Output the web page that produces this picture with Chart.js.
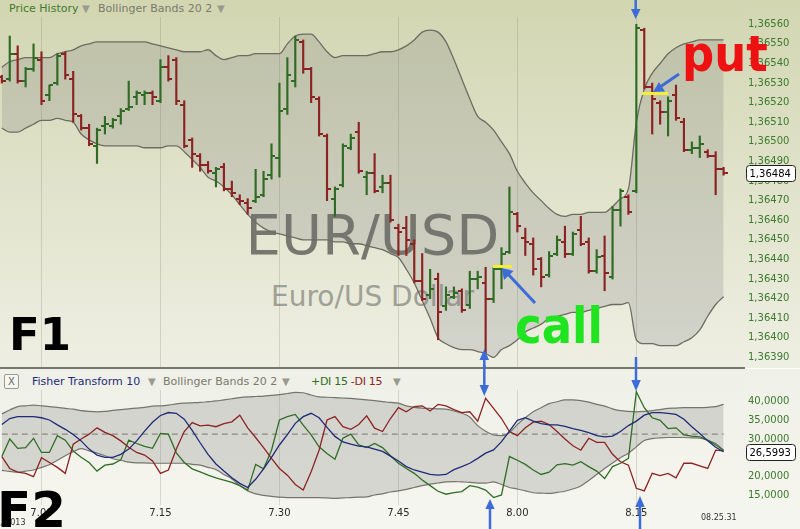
<!DOCTYPE html>
<html lang="en">
<head>
<meta charset="UTF-8">
<title>EUR/USD Price History</title>
<script src="https://cdn.jsdelivr.net/npm/chart.js@4"></script>
<style>
  body { margin: 0; background: #fff; }
  #wrap { position: relative; width: 800px; height: 529px; overflow: hidden; font-family: "DejaVu Sans", Verdana, sans-serif; }
  .abs { position: absolute; white-space: nowrap; }
  #topBg { left: 0; top: 0; width: 800px; height: 368px; background: linear-gradient(#d2d6b1, #dfe1c8 45%, #eeefe3); }
  #botBg { left: 0; top: 369px; width: 800px; height: 160px; background: linear-gradient(#eff0e7, #f6f6f0); }
  #sep { left: 0; top: 367px; width: 745px; height: 1.5px; background: #77776f; }
  canvas { position: absolute; left: 0; }
  #priceChart { top: 0; }
  #fisherChart { top: 369px; }
  .strip { left: 0; width: 745px; }
  .hdr { font-size: 11px; line-height: 17px; }
  .tri { color: #9a9a8e; font-size: 10px; }
  .mark { line-height: 1; }
</style>
</head>
<body>
<div id="wrap">
  <div id="topBg" class="abs"></div>
  <div id="botBg" class="abs"></div>

  <div class="abs mark" style="left:0;width:745px;text-align:center;top:206.6px;font-size:56px;color:#77776f;">EUR/USD</div>
  <div class="abs mark" style="left:0;width:745px;text-align:center;top:283.3px;font-size:28px;color:#a0a096;">Euro/US Dollar</div>

  <canvas id="priceChart" width="800" height="368"></canvas>
  <canvas id="fisherChart" width="800" height="160"></canvas>
  <div id="sep" class="abs"></div>

  <div class="abs strip" style="top:0;height:17px;background:#d2d6b1;"></div>
  <div class="abs hdr" style="left:9px;top:0;color:#3d7a2c;">Price History</div>
  <div class="abs hdr tri" style="left:82px;top:0;">▼</div>
  <div class="abs hdr" style="left:98px;top:0;color:#7a7a6c;">Bollinger Bands 20 2</div>
  <div class="abs hdr tri" style="left:217px;top:0;">▼</div>

  <div class="abs strip" style="top:369px;height:21px;background:#eff0e7;"></div>
  <div class="abs" style="left:4px;top:374px;width:13px;height:13px;border:1px solid #9a9a90;border-radius:2px;background:#f6f6f0;font-size:10px;line-height:13px;text-align:center;color:#666;">X</div>
  <div class="abs hdr" style="left:32px;top:373px;color:#1f2a78;">Fisher Transform 10</div>
  <div class="abs hdr tri" style="left:148px;top:373px;">▼</div>
  <div class="abs hdr" style="left:163px;top:373px;color:#7a7a6c;">Bollinger Bands 20 2</div>
  <div class="abs hdr tri" style="left:282px;top:373px;">▼</div>
  <div class="abs hdr" style="left:311px;top:373px;color:#2f6e24;letter-spacing:-0.3px;">+DI 15 <span style="color:#8c2323;">-DI 15</span></div>
  <div class="abs hdr tri" style="left:393px;top:373px;">▼</div>

  <div class="abs" style="left:701px;top:513px;font-size:8px;color:#333;">08.25.31</div>
  <div class="abs" style="left:-5px;top:518px;font-size:8px;color:#333;">7, 2013</div>

  <div class="abs mark" style="left:9px;top:312px;font-size:45px;font-weight:bold;color:#000;">F1</div>
  <div class="abs mark" style="left:-3px;top:484.7px;font-size:50px;font-weight:bold;color:#000;">F2</div>
  <div class="abs mark" style="left:515px;top:301px;font-size:50px;font-weight:bold;font-family:'DejaVu Sans Condensed','DejaVu Sans',sans-serif;color:#1fe41f;">call</div>
  <div class="abs mark" style="left:682px;top:29.4px;font-size:50px;font-weight:bold;font-family:'DejaVu Sans Condensed','DejaVu Sans',sans-serif;color:#ee1111;">put</div>

  <svg class="abs" style="left:0;top:0;" width="800" height="529">
    <g stroke="#f2ee3a" stroke-width="3">
      <line x1="493" y1="266.5" x2="512" y2="266.5"/>
      <line x1="642" y1="93.5" x2="668" y2="93.5"/>
    </g>
    <g stroke="#3d6cd8" stroke-width="2.5" fill="#3d6cd8">
      <line x1="635.7" y1="0" x2="635.7" y2="10"/>
      <polygon stroke="none" points="631,9 640.5,9 635.7,19"/>
      <line x1="484.3" y1="359" x2="484.3" y2="369"/>
      <polygon stroke="none" points="479.5,360 489,360 484.3,349"/>
      <line x1="636" y1="357" x2="636" y2="381"/>
      <polygon stroke="none" points="631.3,380 640.8,380 636,391"/>
      <line x1="484.3" y1="365" x2="484.3" y2="386"/>
      <polygon stroke="none" points="479.6,385 489,385 484.3,396"/>
      <line x1="490" y1="508" x2="490" y2="529"/>
      <polygon stroke="none" points="485.3,509 494.7,509 490,499"/>
      <line x1="640" y1="506" x2="640" y2="529"/>
      <polygon stroke="none" points="635.3,507 644.7,507 640,496"/>
      <line x1="535" y1="303" x2="507" y2="273" stroke-width="3"/>
      <polygon stroke="none" points="501.7,268 504,280 513.5,271"/>
      <line x1="679" y1="74" x2="660" y2="87" stroke-width="3"/>
      <polygon stroke="none" points="653,92 665,91.5 659,82"/>
    </g>
  </svg>
</div>

<script>
// one bar per minute, first bar at 6.55 (minute -5 counted from 7.00)
const firstMinute = -5;

const open = [
  1.36533, 1.36532, 1.36545, 1.36531, 1.36537,
  1.36542, 1.36524, 1.36530, 1.36545, 1.36532, 1.36513, 1.36507, 1.36498, 1.36508, 1.36508,
  1.36513, 1.36517, 1.36523, 1.36524, 1.36525, 1.36521, 1.36538, 1.36542, 1.36519, 1.36501,
  1.36493, 1.36488, 1.36484, 1.36487, 1.36476, 1.36471, 1.36469, 1.36470, 1.36473, 1.36483,
  1.36492, 1.36517, 1.36531, 1.36551, 1.36537, 1.36522, 1.36503, 1.36471, 1.36478, 1.36497,
  1.36505, 1.36482, 1.36484, 1.36477, 1.36479, 1.36456, 1.36456, 1.36448, 1.36429, 1.36422,
  1.36430, 1.36416, 1.36421, 1.36424, 1.36417, 1.36430, 1.36428, 1.36420, 1.36435, 1.36444,
  1.36463, 1.36451, 1.36448, 1.36440, 1.36432, 1.36443, 1.36449, 1.36443, 1.36455, 1.36449,
  1.36434, 1.36442, 1.36431, 1.36465, 1.36472, 1.36475, 1.36557, 1.36528, 1.36520, 1.36515,
  1.36524, 1.36510, 1.36496, 1.36497, 1.36495, 1.36493, 1.36486
];
const high = [
  1.36534, 1.36554, 1.36549, 1.36538, 1.36550,
  1.36546, 1.36529, 1.36545, 1.36546, 1.36536, 1.36514, 1.36509, 1.36507, 1.36513, 1.36512,
  1.36517, 1.36531, 1.36526, 1.36526, 1.36526, 1.36542, 1.36544, 1.36543, 1.36521, 1.36502,
  1.36494, 1.36490, 1.36487, 1.36489, 1.36480, 1.36473, 1.36471, 1.36486, 1.36485, 1.36499,
  1.36530, 1.36543, 1.36554, 1.36552, 1.36538, 1.36523, 1.36504, 1.36477, 1.36499, 1.36504,
  1.36510, 1.36485, 1.36494, 1.36483, 1.36483, 1.36458, 1.36462, 1.36450, 1.36443, 1.36435,
  1.36433, 1.36426, 1.36426, 1.36425, 1.36434, 1.36434, 1.36436, 1.36436, 1.36446, 1.36477,
  1.36464, 1.36456, 1.36451, 1.36441, 1.36444, 1.36452, 1.36457, 1.36454, 1.36462, 1.36451,
  1.36445, 1.36452, 1.36467, 1.36476, 1.36473, 1.36560, 1.36558, 1.36530, 1.36521, 1.36523,
  1.36529, 1.36512, 1.36500, 1.36503, 1.36496, 1.36495, 1.36487
];
const low = [
  1.36530, 1.36531, 1.36530, 1.36528, 1.36536,
  1.36519, 1.36521, 1.36529, 1.36532, 1.36510, 1.36506, 1.36498, 1.36489, 1.36504, 1.36507,
  1.36509, 1.36516, 1.36519, 1.36519, 1.36519, 1.36520, 1.36531, 1.36519, 1.36497, 1.36487,
  1.36485, 1.36484, 1.36477, 1.36475, 1.36472, 1.36468, 1.36463, 1.36469, 1.36472, 1.36481,
  1.36482, 1.36514, 1.36528, 1.36535, 1.36520, 1.36503, 1.36470, 1.36462, 1.36477, 1.36496,
  1.36484, 1.36473, 1.36474, 1.36474, 1.36459, 1.36442, 1.36442, 1.36428, 1.36419, 1.36420,
  1.36399, 1.36414, 1.36420, 1.36413, 1.36415, 1.36425, 1.36392, 1.36418, 1.36425, 1.36443,
  1.36454, 1.36442, 1.36432, 1.36426, 1.36431, 1.36442, 1.36441, 1.36442, 1.36447, 1.36433,
  1.36433, 1.36424, 1.36430, 1.36457, 1.36463, 1.36474, 1.36527, 1.36504, 1.36509, 1.36503,
  1.36511, 1.36495, 1.36494, 1.36492, 1.36492, 1.36473, 1.36483
];
const close = [
  1.36531, 1.36545, 1.36531, 1.36537, 1.36543,
  1.36521, 1.36529, 1.36544, 1.36534, 1.36514, 1.36507, 1.36499, 1.36506, 1.36509, 1.36511,
  1.36516, 1.36518, 1.36525, 1.36525, 1.36523, 1.36538, 1.36532, 1.36521, 1.36498, 1.36494,
  1.36488, 1.36485, 1.36486, 1.36476, 1.36474, 1.36470, 1.36466, 1.36472, 1.36481, 1.36493,
  1.36516, 1.36534, 1.36552, 1.36537, 1.36523, 1.36504, 1.36476, 1.36476, 1.36498, 1.36502,
  1.36485, 1.36484, 1.36475, 1.36479, 1.36460, 1.36454, 1.36450, 1.36429, 1.36420, 1.36425,
  1.36413, 1.36422, 1.36423, 1.36414, 1.36430, 1.36431, 1.36420, 1.36435, 1.36443, 1.36464,
  1.36457, 1.36449, 1.36435, 1.36431, 1.36442, 1.36450, 1.36443, 1.36453, 1.36448, 1.36434,
  1.36441, 1.36433, 1.36465, 1.36475, 1.36464, 1.36558, 1.36528, 1.36522, 1.36515, 1.36521,
  1.36512, 1.36496, 1.36497, 1.36499, 1.36493, 1.36486, 1.36484
];
const bbUpper = [
  1.36538, 1.36541, 1.36542, 1.36543, 1.36543,
  1.36543, 1.36543, 1.36545, 1.36546, 1.36547, 1.36549, 1.36550, 1.36551, 1.36551, 1.36551,
  1.36551, 1.36551, 1.36551, 1.36551, 1.36550, 1.36549, 1.36548, 1.36547, 1.36546, 1.36546,
  1.36546, 1.36547, 1.36544, 1.36542, 1.36543, 1.36544, 1.36544, 1.36545, 1.36545, 1.36545,
  1.36545, 1.36550, 1.36554, 1.36555, 1.36555, 1.36551, 1.36546, 1.36543, 1.36544, 1.36544,
  1.36544, 1.36544, 1.36545, 1.36546, 1.36546, 1.36547, 1.36549, 1.36552, 1.36556, 1.36557,
  1.36556, 1.36551, 1.36542, 1.36532, 1.36522, 1.36513, 1.36510, 1.36506, 1.36500, 1.36494,
  1.36485, 1.36479, 1.36474, 1.36470, 1.36466, 1.36463, 1.36462, 1.36463, 1.36463, 1.36464,
  1.36464, 1.36464, 1.36467, 1.36471, 1.36476, 1.36510, 1.36527, 1.36535, 1.36540, 1.36545,
  1.36548, 1.36550, 1.36551, 1.36552, 1.36552, 1.36552, 1.36552
];
const bbLower = [
  1.36507, 1.36505, 1.36505, 1.36507, 1.36509,
  1.36511, 1.36511, 1.36512, 1.36511, 1.36510, 1.36504, 1.36501, 1.36499, 1.36498, 1.36498,
  1.36498, 1.36498, 1.36498, 1.36497, 1.36497, 1.36497, 1.36498, 1.36498, 1.36495, 1.36491,
  1.36487, 1.36482, 1.36480, 1.36477, 1.36473, 1.36468, 1.36463, 1.36459, 1.36456, 1.36454,
  1.36453, 1.36452, 1.36451, 1.36450, 1.36450, 1.36450, 1.36450, 1.36449, 1.36449, 1.36448,
  1.36448, 1.36447, 1.36446, 1.36445, 1.36443, 1.36441, 1.36435, 1.36428, 1.36419, 1.36410,
  1.36400, 1.36397, 1.36395, 1.36394, 1.36394, 1.36393, 1.36392, 1.36390, 1.36394, 1.36396,
  1.36399, 1.36403, 1.36405, 1.36407, 1.36410, 1.36411, 1.36412, 1.36413, 1.36413, 1.36414,
  1.36415, 1.36416, 1.36417, 1.36417, 1.36418, 1.36399, 1.36397, 1.36397, 1.36396, 1.36396,
  1.36396, 1.36398, 1.36400, 1.36404, 1.36411, 1.36417, 1.36421
];
const priceTicks = [1.36390, 1.36400, 1.36410, 1.36420, 1.36430, 1.36440, 1.36450, 1.36460, 1.36470,
                    1.36480, 1.36490, 1.36500, 1.36510, 1.36520, 1.36530, 1.36540, 1.36550, 1.36560];

// lower panel: Fisher Transform 10 with its Bollinger Bands, +DI / -DI 15
const fisher = [
  33.9, 35.5, 36.0, 36.0, 36.0,
  35.7, 35.1, 33.8, 32.6, 31.2, 29.5, 27.3, 25.7, 25.1, 25.1,
  25.9, 27.3, 29.5, 32.1, 34.5, 36.3, 37.1, 36.9, 35.3, 32.3,
  29.0, 25.9, 23.3, 21.4, 19.6, 18.1, 17.0, 19.2, 22.0, 25.1,
  28.4, 31.2, 34.2, 36.0, 36.9, 35.7, 33.1, 30.7, 29.2, 28.6,
  28.1, 27.9, 27.3, 26.7, 25.4, 24.1, 22.6, 21.7, 21.1, 20.5,
  20.3, 20.5, 21.8, 22.6, 23.5, 24.8, 26.2, 27.1, 29.3, 32.1,
  35.0, 35.7, 34.8, 34.1, 33.8, 33.8, 33.4, 32.8, 32.3, 31.7,
  30.9, 30.6, 30.8, 32.0, 33.6, 34.8, 36.4, 37.1, 37.1, 36.9,
  36.6, 35.3, 33.3, 31.5, 29.5, 27.8, 26.5993
];
const fisherUpper = [
  36.7, 37.8, 38.7, 38.9, 39.1,
  38.9, 38.7, 38.5, 38.2, 38.0, 37.6, 37.4, 37.3, 37.4, 37.7,
  37.9, 38.1, 38.3, 38.5, 38.8, 38.9, 39.1, 39.4, 39.6, 39.7,
  39.8, 40.0, 40.2, 40.5, 40.8, 41.1, 41.3, 41.4, 41.5, 41.7,
  41.9, 42.2, 42.5, 42.4, 41.8, 41.3, 41.2, 41.1, 41.0, 40.9,
  40.7, 40.5, 40.3, 40.0, 39.8, 39.6, 38.9, 38.5, 38.3, 38.2,
  38.1, 38.0, 37.5, 36.9, 35.9, 33.6, 32.1, 31.1, 30.9, 31.7,
  33.9, 35.7, 37.3, 38.4, 39.5, 40.0, 40.5, 40.5, 40.3, 39.9,
  39.3, 38.8, 38.1, 37.6, 37.4, 37.3, 37.4, 37.6, 37.9, 38.2,
  38.3, 38.4, 38.4, 38.4, 38.5, 38.7, 39.3
];
const fisherLower = [
  21.6, 21.3, 21.1, 21.4, 21.7,
  22.4, 23.1, 24.3, 25.5, 26.6, 27.4, 26.8, 26.2, 25.5, 24.7,
  24.3, 23.8, 23.6, 23.6, 23.5, 23.5, 23.5, 23.5, 23.5, 23.2,
  23.0, 22.4, 21.8, 20.5, 19.3, 17.5, 16.1, 15.3, 14.9, 14.6,
  14.4, 14.3, 14.3, 14.3, 14.3, 14.3, 14.2, 14.1, 14.2, 14.3,
  14.4, 14.5, 15.0, 15.3, 15.8, 16.1, 16.5, 17.0, 17.5, 17.9,
  18.2, 18.5, 18.6, 18.5, 18.4, 18.2, 18.2, 18.5, 17.8, 17.0,
  16.6, 16.1, 15.6, 15.5, 15.4, 15.7, 16.0, 16.6, 17.4, 18.9,
  20.5, 22.1, 23.6, 25.0, 26.2, 27.9, 29.6, 30.1, 30.3, 30.4,
  30.4, 30.4, 30.3, 30.2, 29.6, 28.8, 27.0
];
const diPlus = [
  25.3, 30.0, 27.5, 27.7, 30.2,
  26.4, 26.4, 30.9, 29.7, 26.8, 25.1, 23.7, 21.4, 23.0, 23.3,
  24.4, 29.7, 28.8, 28.0, 27.5, 31.5, 31.3, 26.3, 23.7, 22.0,
  21.2, 20.3, 19.6, 19.0, 18.4, 17.5, 16.3, 23.2, 22.0, 27.0,
  35.1, 36.0, 36.6, 33.7, 31.1, 27.9, 26.1, 24.6, 30.2, 31.3,
  28.4, 27.7, 28.8, 27.7, 25.5, 23.5, 22.1, 20.8, 19.0, 17.5,
  16.0, 15.2, 15.6, 15.9, 17.5, 17.1, 16.3, 14.3, 15.0, 25.3,
  24.3, 23.2, 21.7, 20.5, 21.1, 23.1, 23.4, 23.0, 23.9, 22.6,
  21.4, 19.4, 22.6, 23.5, 24.8, 42.7, 38.4, 35.7, 35.0, 32.8,
  33.0, 31.1, 30.8, 30.6, 29.7, 28.4, 27.0
];
const diMinus = [
  25.3, 22.1, 21.1, 20.8, 19.9,
  25.0, 23.7, 22.4, 20.8, 28.6, 30.0, 31.3, 33.0, 31.8, 30.9,
  29.5, 27.8, 26.4, 25.7, 24.1, 20.8, 21.7, 27.3, 32.0, 34.4,
  33.5, 33.7, 33.3, 34.1, 34.6, 36.4, 33.0, 30.4, 27.7, 24.8,
  22.1, 20.3, 17.8, 16.3, 21.2, 27.0, 35.1, 36.0, 33.3, 32.6,
  33.9, 36.2, 32.9, 32.0, 35.5, 38.4, 37.3, 38.7, 38.9, 37.5,
  39.3, 38.9, 37.9, 37.1, 37.3, 34.8, 40.9, 38.2, 35.5, 32.0,
  30.9, 33.0, 34.5, 34.8, 33.9, 32.0, 30.0, 28.2, 27.0, 30.2,
  29.1, 29.1, 25.9, 23.9, 23.0, 16.8, 16.1, 20.8, 20.2, 20.8,
  19.6, 23.5, 23.5, 22.8, 22.1, 27.0, 26.8
];
const fisherLevel = 31.3;
const fisherTicks = [15, 20, 30, 35, 40];

const timeTicks = [0, 15, 30, 45, 60, 75];
const timeLabels = ['7.00', '7.15', '7.30', '7.45', '8.00', '8.15'];

const upColor = '#2f6b24';
const downColor = '#8c2323';
const axisColor = '#3c7a2e';
const gridColor = 'rgba(110,110,90,0.22)';

const minutes = close.map((c, i) => firstMinute + i);
const pts = arr => arr.map((v, i) => ({ x: minutes[i], y: v }));
const isUp = i => close[i] >= open[i];
const xMin = -5.23, xMax = 88.7;

// little horizontal ticks for the open (left) and close (right) of each bar
function tickMark(color, left) {
  const c = document.createElement('canvas');
  c.width = 8; c.height = 2;
  const g = c.getContext('2d');
  g.fillStyle = color;
  g.fillRect(left ? 0 : 4, 0, 4, 2);
  return c;
}
const openUp = tickMark(upColor, true), openDown = tickMark(downColor, true);
const closeUp = tickMark(upColor, false), closeDown = tickMark(downColor, false);

function valueBox(value, text) {
  return {
    id: 'valueBox',
    afterDraw(chart) {
      const ctx = chart.ctx;
      const y = Math.round(chart.scales.y.getPixelForValue(value)) + 0.5;
      const x = chart.chartArea.right + 1.5;
      ctx.save();
      ctx.beginPath();
      ctx.roundRect(x, y - 8, 49, 16, 3);
      ctx.fillStyle = '#ffffff';
      ctx.fill();
      ctx.strokeStyle = '#222';
      ctx.lineWidth = 1;
      ctx.stroke();
      ctx.fillStyle = '#000';
      ctx.font = '10px "DejaVu Sans"';
      ctx.textBaseline = 'middle';
      ctx.fillText(text, x + 3, y + 0.5);
      ctx.restore();
    }
  };
}

const xAxis = (showLabels) => ({
  type: 'linear',
  min: xMin,
  max: xMax,
  offset: false,
  afterBuildTicks: s => { s.ticks = timeTicks.map(v => ({ value: v })); },
  ticks: {
    display: showLabels,
    autoSkip: false,
    maxRotation: 0,
    padding: 2,
    color: '#2a2a2a',
    font: { family: 'DejaVu Sans', size: 10 },
    callback: v => timeLabels[timeTicks.indexOf(v)]
  },
  grid: { color: gridColor, drawTicks: false, offset: false },
  border: { display: false },
  afterFit: s => { s.height = showLabels ? 24 : 0; s.paddingLeft = 0; s.paddingRight = 0; }
});

const rightAxis = (min, max, ticks, digits) => ({
  position: 'right',
  min: min,
  max: max,
  afterBuildTicks: s => { s.ticks = ticks.map(v => ({ value: v })); },
  ticks: {
    padding: 3,
    color: axisColor,
    font: { family: 'DejaVu Sans', size: 10 },
    callback: v => v.toFixed(digits).replace('.', ',')
  },
  grid: { display: false, drawTicks: false },
  border: { display: false },
  afterFit: s => { s.width = 55; s.paddingTop = 0; s.paddingBottom = 0; }
});

const common = {
  responsive: false,
  animation: false,
  events: [],
  layout: { padding: 0, autoPadding: false },
  plugins: {
    legend: { display: false },
    tooltip: { enabled: false },
    filler: { drawTime: 'beforeDatasetsDraw' }
  }
};

new Chart(document.getElementById('priceChart'), {
  type: 'bar',
  data: {
    datasets: [
      { type: 'line', data: pts(bbUpper), borderColor: '#6c6c62', borderWidth: 1.3, pointRadius: 0,
        fill: false, cubicInterpolationMode: 'monotone', order: 10 },
      { type: 'line', data: pts(bbLower), borderColor: '#6c6c62', borderWidth: 1.3, pointRadius: 0,
        fill: '-1', backgroundColor: 'rgba(120,120,125,0.22)', cubicInterpolationMode: 'monotone', order: 10 },
      { type: 'bar', data: minutes.map((m, i) => ({ x: m, y: [low[i], high[i]] })),
        backgroundColor: c => isUp(c.dataIndex) ? upColor : downColor, barThickness: 1.5, order: 3 },
      { type: 'line', data: pts(open), showLine: false, pointRadius: 3,
        pointStyle: c => isUp(c.dataIndex) ? openUp : openDown, order: 2 },
      { type: 'line', data: pts(close), showLine: false, pointRadius: 3,
        pointStyle: c => isUp(c.dataIndex) ? closeUp : closeDown, order: 1 }
    ]
  },
  options: Object.assign({}, common, {
    scales: {
      x: xAxis(false),
      y: rightAxis(1.363846, 1.365724, priceTicks, 5)
    }
  }),
  plugins: [valueBox(close[close.length - 1], close[close.length - 1].toFixed(5).replace('.', ','))]
});

new Chart(document.getElementById('fisherChart'), {
  type: 'line',
  data: {
    datasets: [
      { data: pts(fisherUpper), borderColor: '#75756e', borderWidth: 1.2, pointRadius: 0,
        fill: false, cubicInterpolationMode: 'monotone', order: 10 },
      { data: pts(fisherLower), borderColor: '#75756e', borderWidth: 1.2, pointRadius: 0,
        fill: '-1', backgroundColor: 'rgba(125,125,125,0.25)', cubicInterpolationMode: 'monotone', order: 10 },
      { data: [{ x: minutes[0], y: fisherLevel }, { x: minutes[minutes.length - 1], y: fisherLevel }],
        borderColor: '#8a8a84', borderWidth: 1.2, borderDash: [6, 4], pointRadius: 0, order: 9 },
      { data: pts(diPlus), borderColor: '#2f6e24', borderWidth: 1.3, pointRadius: 0, order: 3 },
      { data: pts(diMinus), borderColor: '#8c2323', borderWidth: 1.3, pointRadius: 0, order: 2 },
      { data: pts(fisher), borderColor: '#1f2a78', borderWidth: 1.3, pointRadius: 0, order: 1 }
    ]
  },
  options: Object.assign({}, common, {
    scales: {
      x: xAxis(true),
      y: rightAxis(12.31, 48.77, fisherTicks, 4)
    }
  }),
  plugins: [valueBox(fisher[fisher.length - 1], fisher[fisher.length - 1].toFixed(4).replace('.', ','))]
});
</script>
</body>
</html>
